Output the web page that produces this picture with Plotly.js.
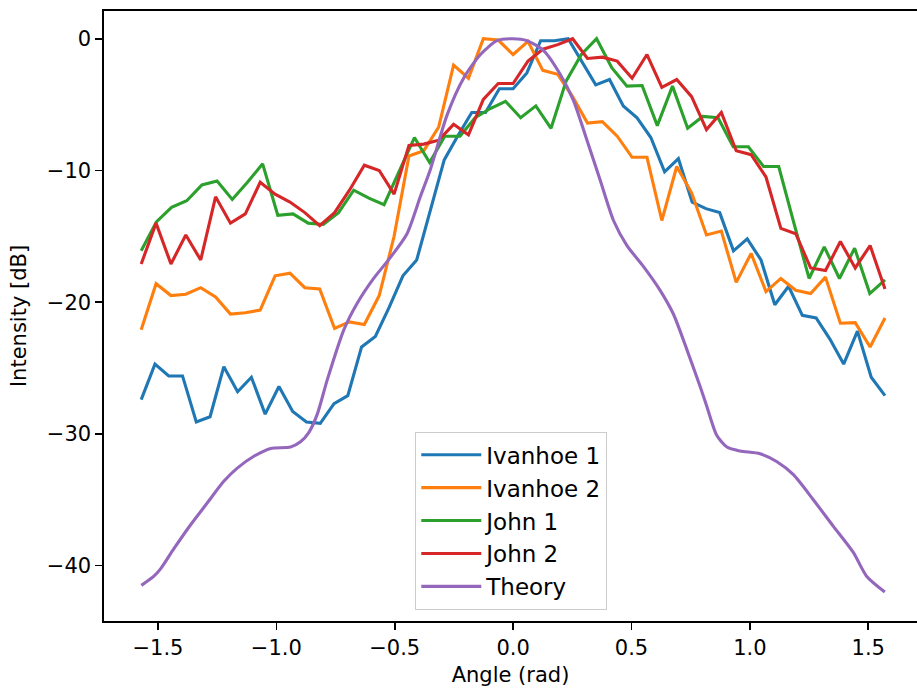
<!DOCTYPE html>
<html>
<head>
<meta charset="utf-8">
<script src="https://cdn.plot.ly/plotly-3.0.1.min.js"></script>
<style>
  html, body { margin: 0; padding: 0; background: #ffffff; }
  #chart { width: 917px; height: 692px; }
</style>
</head>
<body>
<div id="chart"></div>
<script>
// ---- Data ----
const seriesNames = ["Ivanhoe 1", "Ivanhoe 2", "John 1", "John 2", "Theory"];

// Measured series: evenly spaced angles from -pi/2 to pi/2 (count = length of values)
const ivanhoe1 = [-27.4, -24.7, -25.6, -25.6, -29.1, -28.7, -24.9, -26.8, -25.7, -28.5,
  -26.4, -28.3, -29.1, -29.2, -27.7, -27.1, -23.4, -22.6, -20.4, -18.0,
  -16.8, -13.1, -9.2, -7.35, -5.6, -5.6, -3.8, -3.8, -2.6, -0.15,
  -0.15, 0.0, -1.7, -3.5, -3.1, -5.1, -6.0, -7.5, -10.1, -9.1,
  -12.4, -12.9, -13.2, -16.1, -15.2, -16.8, -20.2, -18.8, -21.0, -21.2,
  -22.8, -24.7, -22.2, -25.7, -27.1];

const ivanhoe2 = [-22.1, -18.6, -19.5, -19.4, -18.9, -19.6, -20.9, -20.8, -20.6, -18.0,
  -17.8, -18.9, -19.0, -22.0, -21.5, -21.7, -19.5, -15.0, -8.9, -8.5,
  -6.7, -2.0, -3.0, 0.0, -0.1, -1.2, -0.2, -2.4, -2.7, -4.4,
  -6.4, -6.3, -7.4, -9.0, -9.0, -13.8, -9.7, -11.7, -14.9, -14.6,
  -18.5, -16.3, -19.2, -18.2, -19.1, -19.35, -18.1, -21.6, -21.55, -23.4,
  -21.2];

const john1 = [-16.1, -13.9, -12.8, -12.3, -11.1, -10.8, -12.2, -10.9, -9.5, -13.4,
  -13.3, -14.0, -14.1, -13.2, -11.5, -12.1, -12.6, -10.1, -7.5, -9.4,
  -7.4, -7.4, -6.0, -5.3, -4.75, -6.0, -5.1, -6.8, -3.2, -1.2,
  0.0, -2.2, -3.6, -3.55, -6.6, -3.6, -6.8, -5.9, -6.0, -8.2,
  -8.2, -9.7, -9.7, -14.0, -18.2, -15.8, -18.2, -15.9, -19.35, -18.3];

const john2 = [-17.1, -14.0, -17.1, -14.9, -16.8, -12.0, -14.0, -13.3, -10.9, -11.8,
  -12.4, -13.2, -14.2, -13.2, -11.5, -9.6, -10.0, -11.8, -8.1, -8.0,
  -7.7, -6.5, -7.3, -4.6, -3.4, -3.4, -1.7, -0.8, -0.45, 0.0,
  -1.5, -1.4, -1.7, -3.0, -1.2, -3.7, -3.1, -4.4, -6.9, -5.6,
  -8.5, -8.8, -10.5, -14.4, -14.8, -17.4, -17.6, -15.4, -17.4, -15.7,
  -19.0];

const theoryAngle = [-1.570, -1.517, -1.489, -1.432, -1.362, -1.292, -1.222, -1.165, -1.095, -1.024,
  -0.940, -0.898, -0.863, -0.827, -0.785, -0.715, -0.659, -0.589, -0.518, -0.448,
  -0.392, -0.349, -0.279, -0.209, -0.138, -0.068, 0.000, 0.059, 0.129, 0.199,
  0.255, 0.312, 0.368, 0.424, 0.481, 0.551, 0.621, 0.677, 0.734, 0.790,
  0.818, 0.860, 0.903, 0.959, 1.043, 1.113, 1.184, 1.268, 1.352, 1.437,
  1.493, 1.570];
const theory = [-41.5, -40.8, -40.25, -38.7, -36.9, -35.25, -33.6, -32.6, -31.7, -31.1,
  -31.0, -30.6, -29.9, -28.5, -25.9, -22.1, -20.1, -18.2, -16.6, -14.8,
  -12.0, -9.9, -5.8, -3.0, -1.2, -0.15, 0.0, -0.15, -0.9, -2.7,
  -4.7, -7.7, -10.75, -13.8, -15.7, -17.3, -19.1, -20.9, -23.6, -26.4,
  -27.9, -30.1, -31.0, -31.3, -31.5, -32.1, -33.1, -35.0, -37.0, -39.0,
  -40.8, -42.0];

const xTickVals = [-1.5, -1.0, -0.5, 0.0, 0.5, 1.0, 1.5];
const yTickVals = [0, -10, -20, -30, -40];

// ---- Build chart ----
const angleGrid = n => Array.from({length: n}, (_, i) => -Math.PI / 2 + i * Math.PI / (n - 1));
const colors = ["#1f77b4", "#ff7f0e", "#2ca02c", "#d62728", "#9467bd"];
const measured = [ivanhoe1, ivanhoe2, john1, john2];

const traces = measured.map((vals, k) => ({
  type: "scatter", mode: "lines",
  x: angleGrid(vals.length), y: vals,
  name: seriesNames[k],
  line: {color: colors[k], width: 3.1}
}));
traces.push({
  type: "scatter", mode: "lines",
  x: theoryAngle, y: theory,
  name: seriesNames[4],
  line: {color: colors[4], width: 3.1, shape: "spline", smoothing: 0.7}
});

const font = {family: "DejaVu Sans, sans-serif", size: 21, color: "#000000"};
const layout = {
  width: 917, height: 692,
  margin: {l: 104, r: 0, t: 11, b: 71, pad: 0},
  paper_bgcolor: "#ffffff", plot_bgcolor: "#ffffff",
  font: font,
  showlegend: true,
  xaxis: {
    range: [-1.7279, 1.706],
    tickvals: xTickVals, tickformat: ".1f",
    ticks: "outside", ticklen: 7, tickwidth: 1.6, tickcolor: "#000",
    showline: true, linecolor: "#000", linewidth: 1.6, mirror: true,
    showgrid: false, zeroline: false,
    tickfont: font,
    title: {text: "Angle (rad)", font: font, standoff: 8}
  },
  yaxis: {
    range: [-44.205, 2.105],
    tickvals: yTickVals,
    ticks: "outside", ticklen: 7, tickwidth: 1.6, tickcolor: "#000",
    showline: true, linecolor: "#000", linewidth: 1.6, mirror: false,
    showgrid: false, zeroline: false,
    tickfont: font,
    title: {text: "Intensity [dB]", font: font, standoff: 14}
  },
  legend: {
    x: 0.3825, y: 0.018, xanchor: "left", yanchor: "bottom",
    bgcolor: "rgba(255,255,255,0.8)", bordercolor: "#cccccc", borderwidth: 1.3,
    font: {family: "DejaVu Sans, sans-serif", size: 23, color: "#000000"},
    itemwidth: 60,
    tracegroupgap: 0
  }
};

Plotly.newPlot("chart", traces, layout, {displayModeBar: false, staticPlot: true});
</script>
</body>
</html>
